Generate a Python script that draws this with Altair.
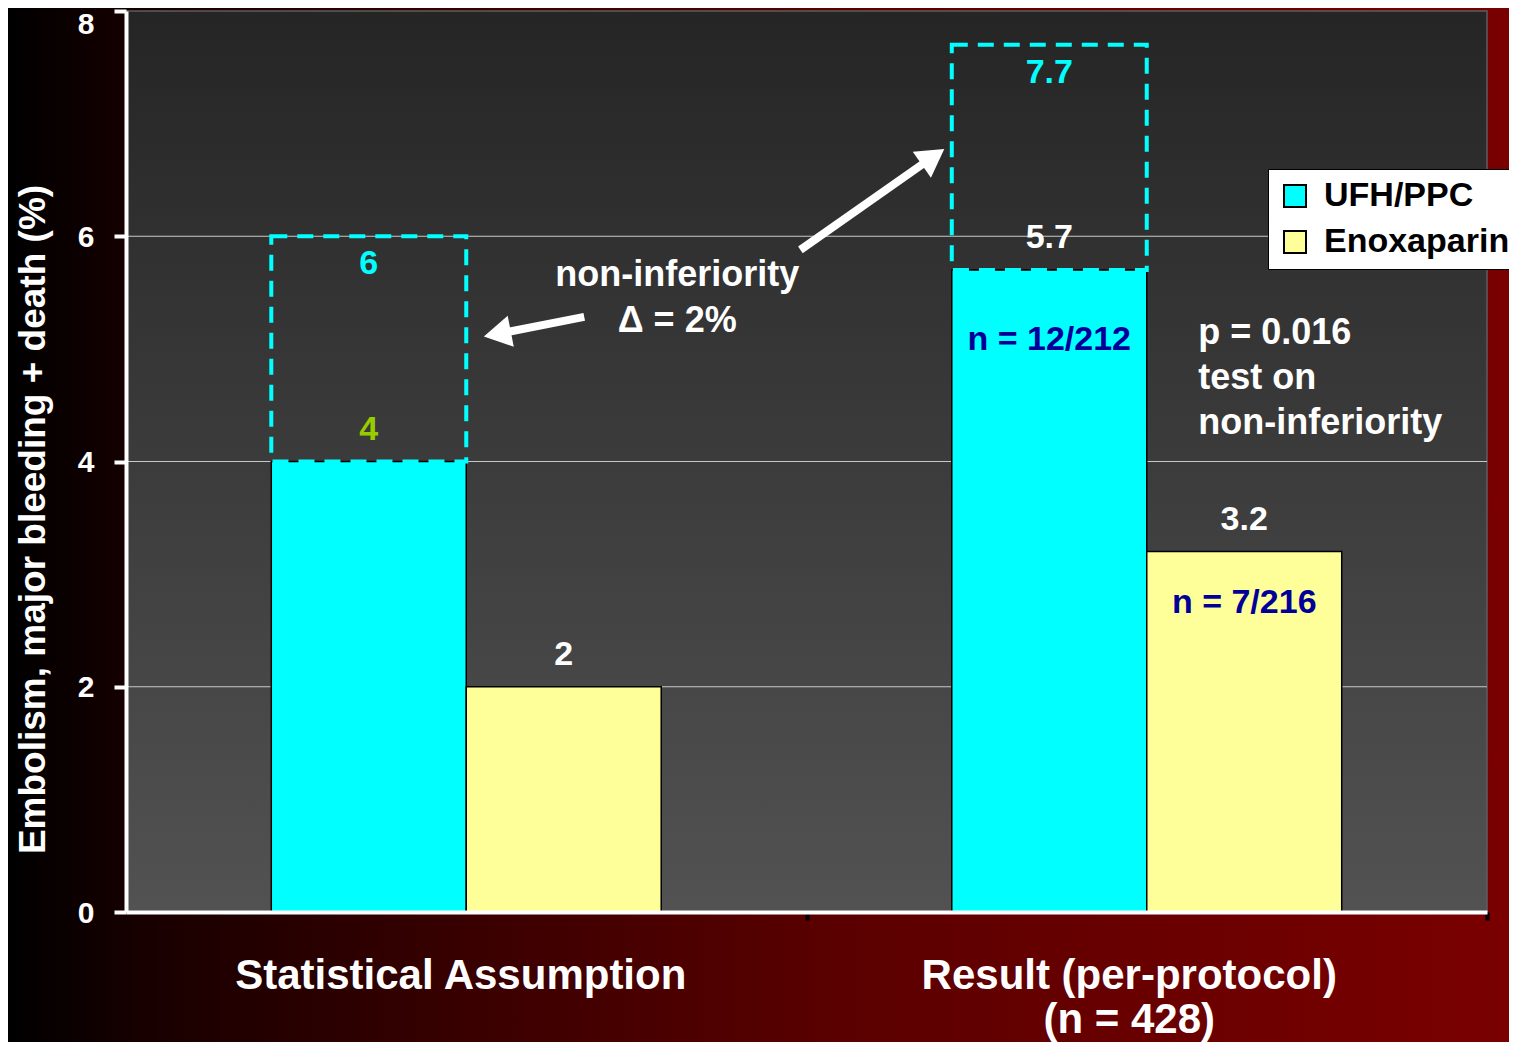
import math
import altair as alt
import pandas as pd

# ---------------- data ----------------
categories = ["Statistical Assumption", "Result (per-protocol)\n(n = 428)"]
series = ["UFH/PPC", "Enoxaparin"]
ufh_values = [4, 5.7]
enox_values = [2, 3.2]
ufh_margin_upper = [6, 7.7]          # UFH rate + non-inferiority margin (dashed boxes)
ufh_counts = ["", "n = 12/212"]
enox_counts = ["", "n = 7/216"]
y_ticks = [0, 2, 4, 6, 8]
grid_values = [2, 4, 6]

# annotation texts (x in group units: 0 = first group centre, 1 = second group centre)
center_notes = ["non-inferiority", "\u0394 = 2%"]
center_notes_x = [0.31, 0.31]
center_notes_y = [5.66, 5.25]
side_notes = ["p = 0.016", "test on", "non-inferiority"]
side_notes_x = [1.0757, 1.0757, 1.0757]
side_notes_y = [5.14, 4.74, 4.34]

# arrows: start point and head point (group units / percent)
arrow_ids = ["a1", "a2"]
arrow_start_x = [0.1734, 0.491]
arrow_start_y = [5.284, 5.879]
arrow_head_x = [0.0456, 0.686]
arrow_head_y = [5.133, 6.705]

# ---------------- geometry / style ----------------
W, H = 1361, 901
PAD = {"left": 118, "top": 3, "right": 22, "bottom": 130}
PX_X = W / 2.0       # pixels per group unit
PX_Y = H / 8.0       # pixels per percent
FONT = "Liberation Sans"
CYAN = "#00ffff"
YELLOW = "#ffff99"

bars_df = pd.DataFrame({
    "category": categories * 2,
    "series": [series[0]] * 2 + [series[1]] * 2,
    "value": ufh_values + enox_values,
})
bars_df["label"] = [f"{v:g}" for v in bars_df["value"]]

boxes_df = pd.DataFrame({
    "category": categories,
    "series": [series[0]] * 2,
    "low": ufh_values,
    "high": ufh_margin_upper,
})
boxes_df["label"] = [f"{v:g}" for v in boxes_df["high"]]

counts_df = pd.DataFrame({
    "category": categories * 2,
    "series": [series[0]] * 2 + [series[1]] * 2,
    "value": ufh_values + enox_values,
    "label": ufh_counts + enox_counts,
})
counts_df = counts_df[counts_df["label"] != ""]

grid_df = pd.DataFrame({"g": grid_values})
one_df = pd.DataFrame({"a": [0]})

center_df = pd.DataFrame({"t": center_notes, "x": center_notes_x, "y": center_notes_y})
side_df = pd.DataFrame({"t": side_notes, "x": side_notes_x, "y": side_notes_y})

arrow_rows = []
head_rows = []
for i, aid in enumerate(arrow_ids):
    arrow_rows.append({"arrow": aid, "o": 0, "x": arrow_start_x[i], "y": arrow_start_y[i]})
    arrow_rows.append({"arrow": aid, "o": 1, "x": arrow_head_x[i], "y": arrow_head_y[i]})
    dx = (arrow_head_x[i] - arrow_start_x[i]) * PX_X
    dy = (arrow_head_y[i] - arrow_start_y[i]) * PX_Y
    ang = math.degrees(math.atan2(dx, dy)) % 360
    head_rows.append({"arrow": aid, "x": arrow_head_x[i], "y": arrow_head_y[i], "angle": ang})
arrow_df = pd.DataFrame(arrow_rows)
head_df = pd.DataFrame(head_rows)

# ---------------- scales / axes ----------------
x_scale = alt.Scale(domain=categories, paddingInner=0.427, paddingOuter=0.2135)
xo_scale = alt.Scale(domain=series)
y_scale = alt.Scale(domain=[0, 8], nice=False, zero=True)
y_axis = alt.Axis(
    values=y_ticks, title="Embolism, major bleeding + death (%)", grid=False,
    domainColor="white", domainWidth=4, tickColor="white", tickWidth=4, tickSize=12,
    labelColor="white", labelFontSize=30, labelFontWeight="bold", labelPadding=20,
    labelOffset={"condition": {"test": "datum.value == 8", "value": 13}, "value": 1},
    titleColor="white", titleFontSize=37, titleFontWeight="bold",
    titleX=-93, titleY=508, titleAngle=-90, titleAlign="center", titleBaseline="middle",
    zindex=1,
)
half_step = W / 4.0
x_axis = alt.Axis(
    title=None, labelAngle=0, labelExpr="split(datum.label, '\\n')",
    domainColor="white", domainWidth=4, tickColor="black", tickWidth=4, tickSize=8,
    tickOffset=half_step,
    labelOffset={"condition": {"test": "indexof(datum.value, 'Result') == 0",
                               "value": -half_step - 18},
                 "value": -half_step - 6},
    labelColor="white", labelFontSize=42, labelFontWeight="bold",
    labelPadding=35, labelLineHeight=44, labelBaseline="top", labelLimit=800, zindex=1,
)
X = alt.X("category:N", scale=x_scale, axis=x_axis, sort=categories)
XO = alt.XOffset("series:N", scale=xo_scale, sort=series)

# ---------------- background ----------------
outer_bg = alt.Chart(one_df).mark_rect(
    fill=alt.LinearGradient(
        gradient="linear", x1=0, x2=1, y1=0, y2=0,
        stops=[alt.GradientStop(color="#000000", offset=0),
               alt.GradientStop(color="#180000", offset=0.09),
               alt.GradientStop(color="#3c0000", offset=0.33),
               alt.GradientStop(color="#5a0000", offset=0.55),
               alt.GradientStop(color="#7a0000", offset=1)]),
).encode(x=alt.value(-PAD["left"]), x2=alt.value(W + PAD["right"]),
         y=alt.value(-PAD["top"]), y2=alt.value(H + PAD["bottom"]))

plot_bg = alt.Chart(one_df).mark_rect(
    fill=alt.LinearGradient(
        gradient="linear", x1=0, x2=0, y1=0, y2=1,
        stops=[alt.GradientStop(color="#252525", offset=0),
               alt.GradientStop(color="#525252", offset=1)]),
    stroke="#5e5e5e", strokeWidth=1.5,
).encode(x=alt.value(0), x2=alt.value("width"), y=alt.value(0), y2=alt.value("height"))

grid = alt.Chart(grid_df).mark_rule(color="#c8c8c8", strokeWidth=1.2).encode(
    y=alt.Y("g:Q", scale=y_scale, axis=y_axis)
)

# ---------------- bars ----------------
bars = alt.Chart(bars_df).mark_bar(stroke="black", strokeWidth=1.5).encode(
    x=X, xOffset=XO,
    y=alt.Y("value:Q", scale=y_scale, axis=y_axis, stack=None),
    color=alt.Color("series:N", scale=alt.Scale(domain=series, range=[CYAN, YELLOW]),
                    sort=series,
                    legend=alt.Legend(title=None, orient="none", legendX=1142, legendY=158,
                                      fillColor="white", strokeColor="black", padding=10,
                                      symbolType="square", symbolSize=484,
                                      symbolStrokeColor="black", symbolStrokeWidth=2,
                                      labelFontSize=34, labelFontWeight="bold",
                                      labelColor="black", labelLimit=400, rowPadding=12,
                                      labelOffset=12, labelFont=FONT)),
)

boxes = alt.Chart(boxes_df).mark_bar(
    fillOpacity=0, stroke=CYAN, strokeWidth=4, strokeDash=[16, 10]
).encode(
    x=X, xOffset=XO,
    y=alt.Y("high:Q", scale=y_scale, axis=y_axis),
    y2="low:Q",
)

value_labels = alt.Chart(bars_df).mark_text(
    fontSize=34, fontWeight="bold", baseline="middle", dy=-32, font=FONT
).encode(
    x=X, xOffset=XO,
    y=alt.Y("value:Q", scale=y_scale, axis=y_axis),
    text="label:N",
    color=alt.condition(
        f"datum.series == '{series[0]}' && datum.category == '{categories[0]}'",
        alt.value("#99cc00"), alt.value("#ffffff")),
)

box_labels = alt.Chart(boxes_df).mark_text(
    fontSize=34, fontWeight="bold", baseline="middle", dy=28, color=CYAN, font=FONT
).encode(
    x=X, xOffset=XO,
    y=alt.Y("high:Q", scale=y_scale, axis=y_axis),
    text="label:N",
)

count_ufh = alt.Chart(counts_df).transform_filter(
    alt.datum.series == series[0]
).mark_text(
    fontSize=34, fontWeight="bold", baseline="middle", dy=70, color="#000099", font=FONT
).encode(
    x=X, xOffset=XO,
    y=alt.Y("value:Q", scale=y_scale, axis=y_axis),
    text="label:N",
)

count_enox = alt.Chart(counts_df).transform_filter(
    alt.datum.series == series[1]
).mark_text(
    fontSize=34, fontWeight="bold", baseline="middle", dy=51, color="#000099", font=FONT
).encode(
    x=X, xOffset=XO,
    y=alt.Y("value:Q", scale=y_scale, axis=y_axis),
    text="label:N",
)

base = alt.layer(outer_bg, plot_bg, grid, bars, boxes, value_labels, box_labels,
                 count_ufh, count_enox)

# ---------------- annotations ----------------
ax_scale = alt.Scale(domain=[-0.5, 1.5], nice=False, zero=False)
AX = alt.X("x:Q", scale=ax_scale, axis=None)
AY = alt.Y("y:Q", scale=y_scale, axis=y_axis)

arrow_lines = alt.Chart(arrow_df).mark_line(color="white", strokeWidth=8, strokeCap="butt").encode(
    x=AX, y=AY, detail="arrow:N", order="o:Q"
)
arrow_heads = alt.Chart(head_df).mark_point(
    shape="triangle-up", filled=True, size=1000, color="white", opacity=1
).encode(x=AX, y=AY, angle=alt.Angle("angle:Q", scale=None))

center_text = alt.Chart(center_df).mark_text(
    fontSize=36, fontWeight="bold", color="white", align="center", baseline="middle", font=FONT
).encode(x=AX, y=AY, text="t:N")

side_text = alt.Chart(side_df).mark_text(
    fontSize=36, fontWeight="bold", color="white", align="left", baseline="middle", font=FONT
).encode(x=AX, y=AY, text="t:N")

notes = alt.layer(arrow_lines, arrow_heads, center_text, side_text)

chart = (
    alt.layer(base, notes)
    .resolve_scale(x="independent")
    .properties(width=W, height=H, padding=PAD, autosize=alt.AutoSizeParams(type="none"),
                background="#100000")
    .configure_view(stroke=None)
    .configure(font=FONT)
)

chart.save("out.html", embed_options={"renderer": "svg", "actions": False})
